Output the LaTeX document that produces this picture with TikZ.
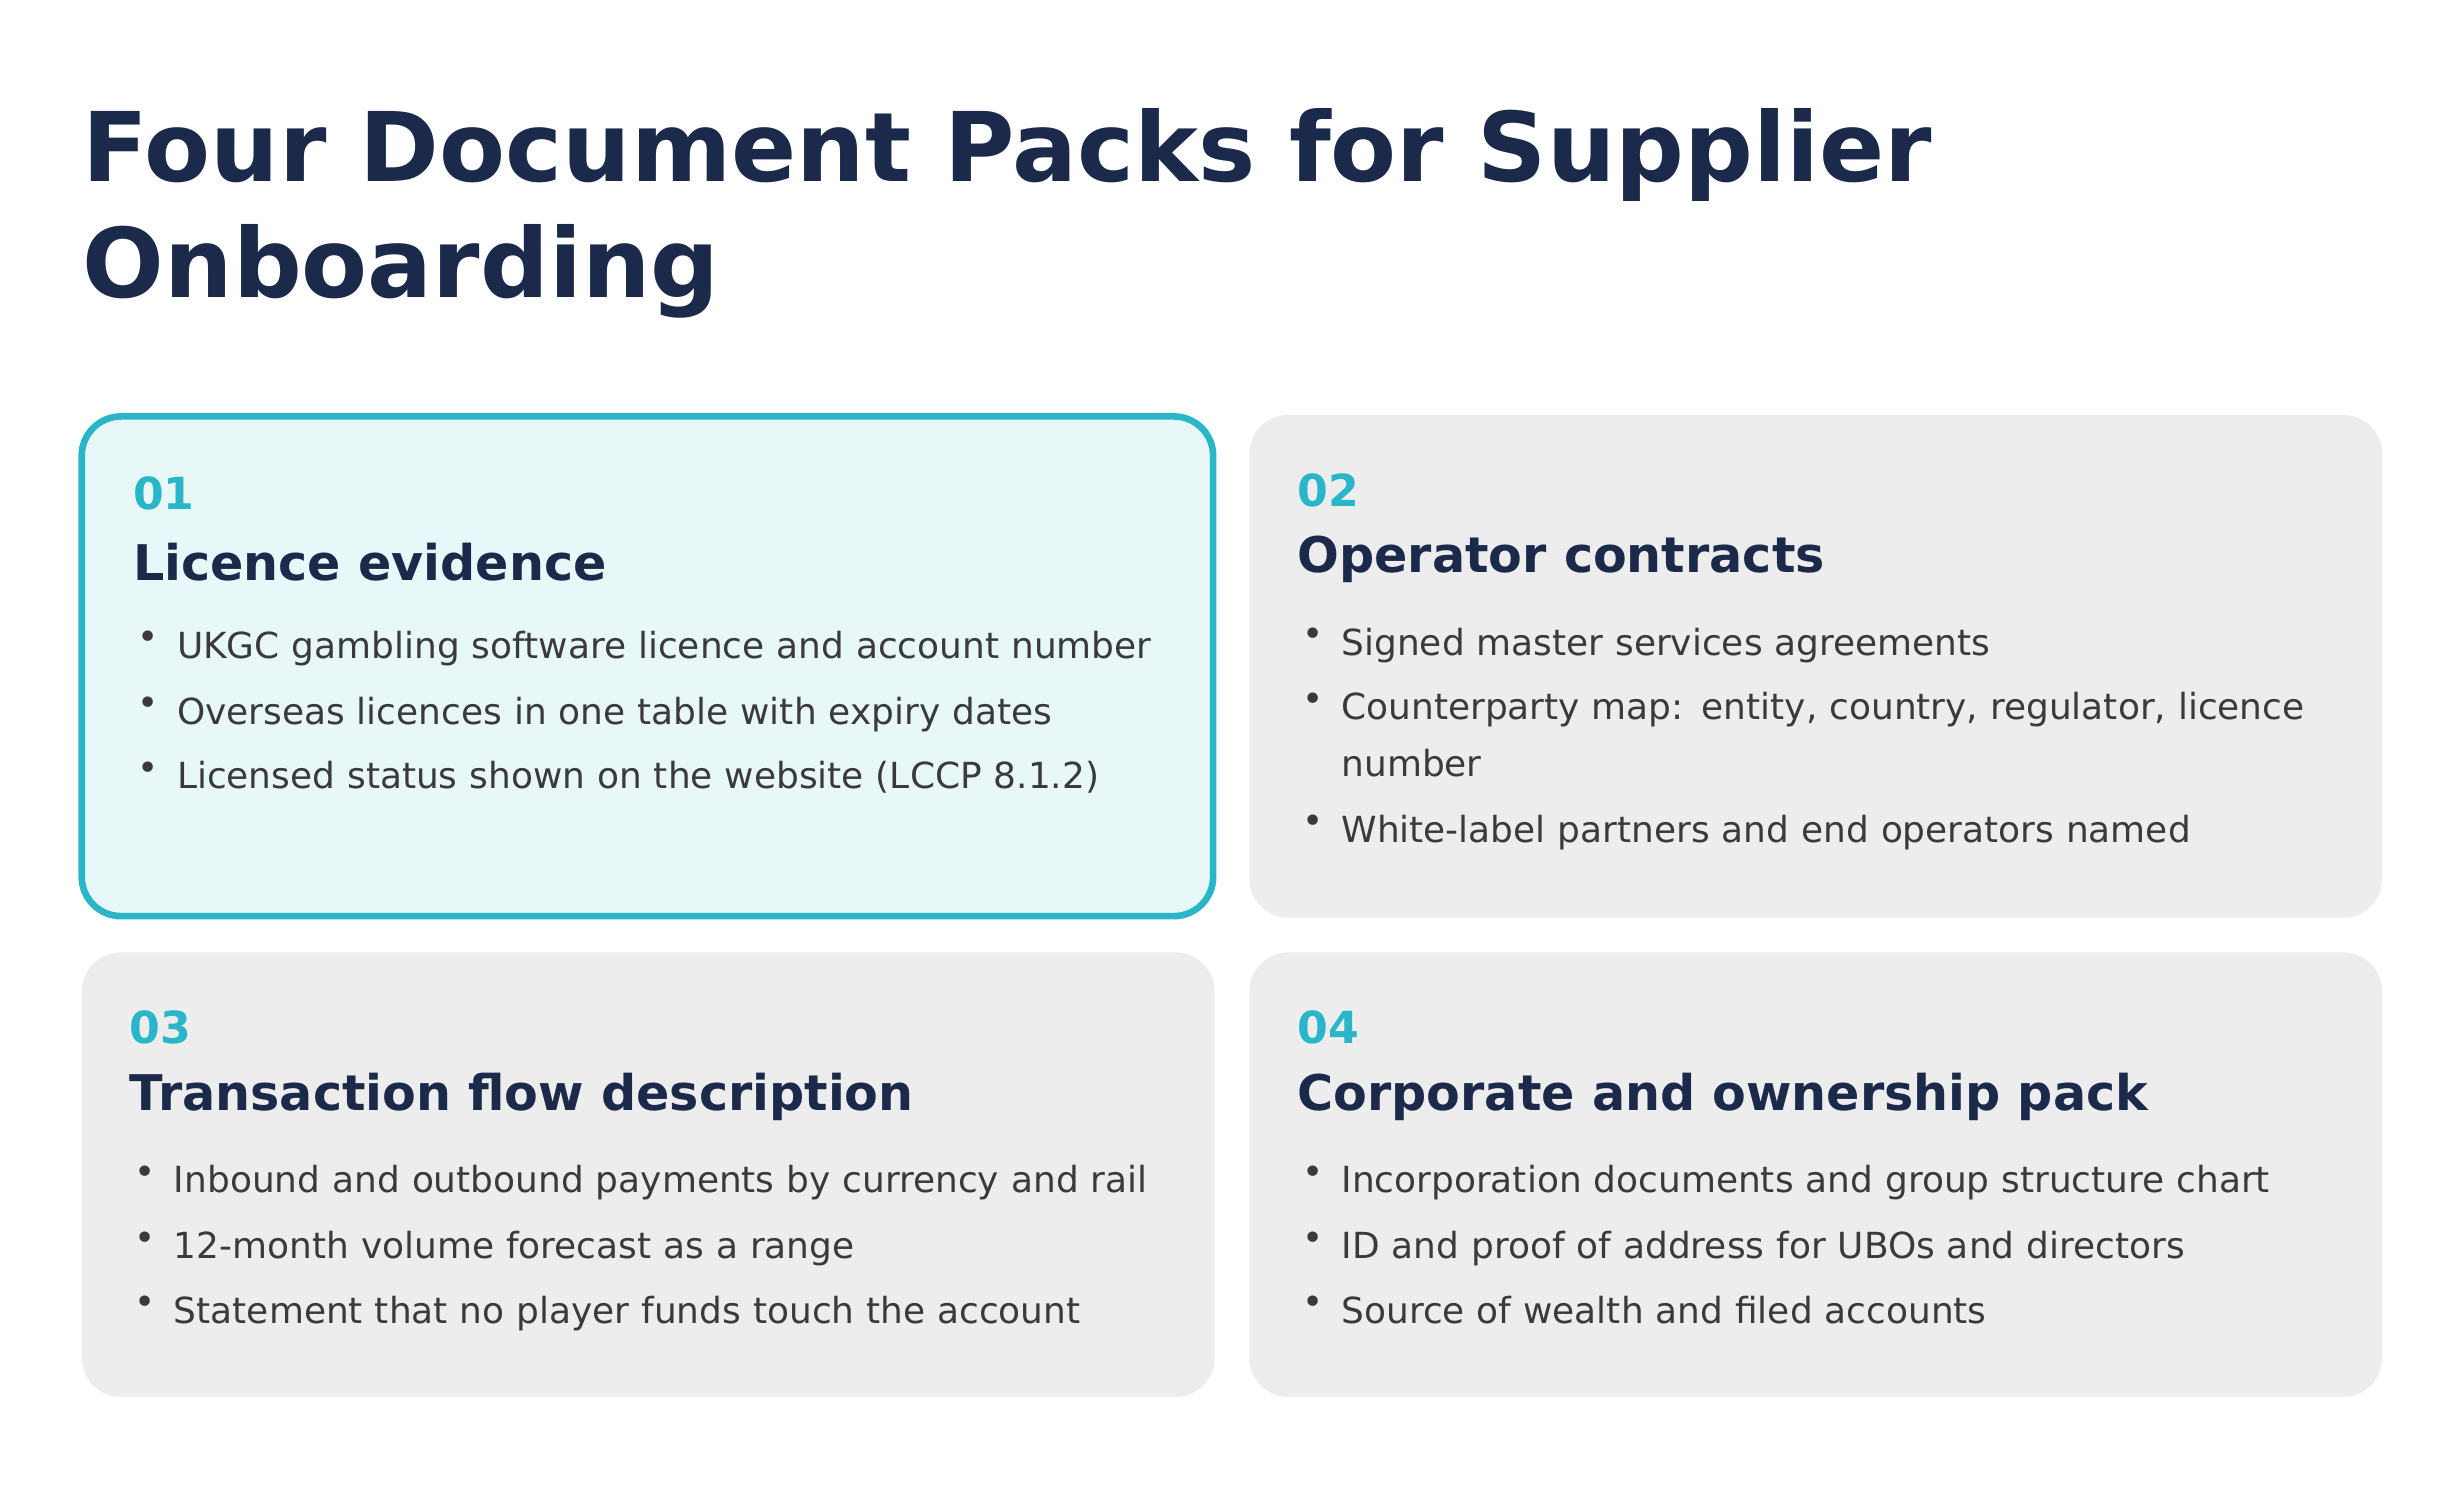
\documentclass[tikz,border=0pt]{standalone}
\usepackage{fontspec}
\setmainfont{DejaVu Sans}
\usetikzlibrary{positioning}
\definecolor{navy}{HTML}{1B2A4A}
\definecolor{teal}{HTML}{29B6C8}
\definecolor{cardgray}{HTML}{EDEDED}
\definecolor{cardteal}{HTML}{E8F7F8}
\definecolor{bodytext}{HTML}{3A3A3A}
\tikzset{
  card/.style={rounded corners=0.25cm, fill=cardgray, draw=none},
  cardhi/.style={rounded corners=0.25cm, fill=cardteal, draw=teal, line width=1.2pt},
  num/.style={anchor=west, inner sep=0, text=teal, font=\bfseries\fontsize{8}{9}\selectfont},
  head/.style={anchor=west, inner sep=0, text=navy, font=\bfseries\fontsize{8.9}{10}\selectfont},
  item/.style={anchor=north west, inner sep=0, text=bodytext, align=left, text width=6.2cm,
    font=\fontsize{6.5}{10.2}\selectfont},
  dot/.style={anchor=north west, inner sep=0, text=bodytext, font=\fontsize{6.5}{10.2}\selectfont}
}
\begin{document}
\begin{tikzpicture}[x=0.01cm,y=-0.01cm]
  \useasboundingbox[fill=white] (0,0) rectangle (1568,958);

  % title
  \node[anchor=north west, inner sep=0, text=navy, align=left,
    font=\bfseries\fontsize{17.4}{21}\selectfont] (title) at (52,68)
    {Four Document Packs for Supplier\\Onboarding};

  % cards
  \draw[cardhi] (52,265) rectangle (772,583);
  \draw[card] (795,264) rectangle (1516,584);
  \draw[card] (52,606) rectangle (773,889);
  \draw[card] (795,606) rectangle (1516,889);

  % 01
  \node[num] (n1) at (84,314) {01};
  \node[head] (h1) at (84,358) {Licence evidence};
  \node[dot] (d11) at (87,401) {\textbullet};
  \node[item] (b11) at (112,401) {UKGC gambling software licence and account number};
  \node[dot] (d12) at (87,443) {\textbullet};
  \node[item] (b12) at (112,443) {Overseas licences in one table with expiry dates};
  \node[dot] (d13) at (87,484) {\textbullet};
  \node[item] (b13) at (112,484) {Licensed status shown on the website (LCCP 8.1.2)};

  % 02
  \node[num] (n2) at (825,312) {02};
  \node[head] (h2) at (825,356) {Operator contracts};
  \node[dot] (d21) at (828,399) {\textbullet};
  \node[item] (b21) at (853,399) {Signed master services agreements};
  \node[dot] (d22) at (828,440) {\textbullet};
  \node[item] (b22) at (853,440) {Counterparty map: entity, country, regulator, licence number};
  \node[dot] (d23) at (828,518) {\textbullet};
  \node[item] (b23) at (853,518) {White-label partners and end operators named};

  % 03
  \node[num] (n3) at (82,654) {03};
  \node[head] (h3) at (82,698) {Transaction flow description};
  \node[dot] (d31) at (85,741) {\textbullet};
  \node[item] (b31) at (110,741) {Inbound and outbound payments by currency and rail};
  \node[dot] (d32) at (85,783) {\textbullet};
  \node[item] (b32) at (110,783) {12-month volume forecast as a range};
  \node[dot] (d33) at (85,824) {\textbullet};
  \node[item] (b33) at (110,824) {Statement that no player funds touch the account};

  % 04
  \node[num] (n4) at (825,654) {04};
  \node[head] (h4) at (825,698) {Corporate and ownership pack};
  \node[dot] (d41) at (828,741) {\textbullet};
  \node[item] (b41) at (853,741) {Incorporation documents and group structure chart};
  \node[dot] (d42) at (828,783) {\textbullet};
  \node[item] (b42) at (853,783) {ID and proof of address for UBOs and directors};
  \node[dot] (d43) at (828,824) {\textbullet};
  \node[item] (b43) at (853,824) {Source of wealth and filed accounts};
\end{tikzpicture}
\end{document}
